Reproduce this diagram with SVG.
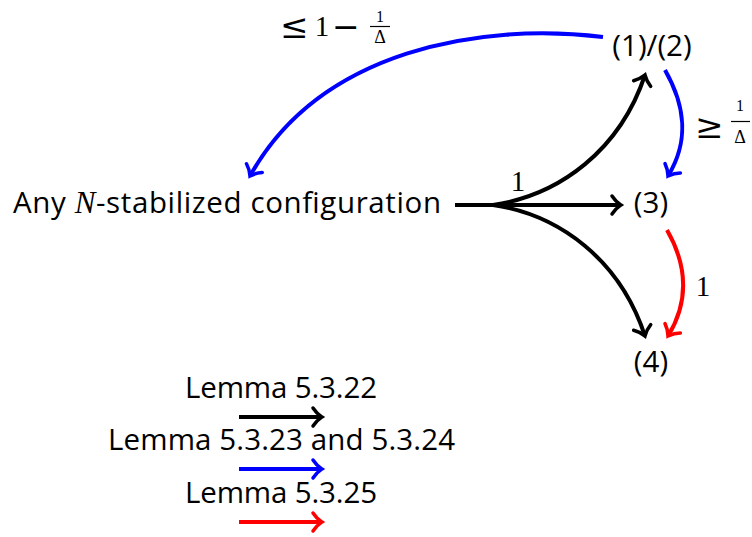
<svg xmlns="http://www.w3.org/2000/svg" width="752" height="537" viewBox="0 0 752 537">
<style>
.t{font-family:"Open Sans","Noto Sans",sans-serif;font-size:29.5px;fill:#000}
.m{font-family:"Liberation Serif","DejaVu Serif",serif;fill:#000}
.s{font-family:"DejaVu Serif","Liberation Serif",serif;fill:#000}
.e{fill:none;stroke-width:4;stroke-linecap:butt}
.k{stroke:#000}.b{stroke:#0000ff}.r{stroke:#ff0000}
</style>
<defs>
<marker id="ak" markerUnits="userSpaceOnUse" markerWidth="20" markerHeight="20" refX="0" refY="0" viewBox="-10 -10 20 20" orient="auto" overflow="visible"><path d="M-9,-9 C-5.5,-3.5 -1.5,-1 0,0 C-1.5,1 -5.5,3.5 -9,9" fill="none" stroke="#000" stroke-width="3.5" stroke-linecap="round"/></marker>
<marker id="ab" markerUnits="userSpaceOnUse" markerWidth="20" markerHeight="20" refX="0" refY="0" viewBox="-10 -10 20 20" orient="auto" overflow="visible"><path d="M-9,-9 C-5.5,-3.5 -1.5,-1 0,0 C-1.5,1 -5.5,3.5 -9,9" fill="none" stroke="#0000ff" stroke-width="3.5" stroke-linecap="round"/></marker>
<marker id="ar" markerUnits="userSpaceOnUse" markerWidth="20" markerHeight="20" refX="0" refY="0" viewBox="-10 -10 20 20" orient="auto" overflow="visible"><path d="M-9,-9 C-5.5,-3.5 -1.5,-1 0,0 C-1.5,1 -5.5,3.5 -9,9" fill="none" stroke="#ff0000" stroke-width="3.5" stroke-linecap="round"/></marker>
</defs>
<g id="n0"><text class="t" x="13" y="213" font-size="30" textLength="428" lengthAdjust="spacing">Any <tspan class="m" font-style="italic" font-size="31">N</tspan>-stabilized configuration</text></g>
<g id="n12"><text class="t" x="652" y="56" text-anchor="middle" font-size="24">(1)/(2)</text></g>
<g id="n3"><text class="t" x="651" y="213" text-anchor="middle" font-size="24">(3)</text></g>
<g id="n4"><text class="t" x="651" y="372" text-anchor="middle" font-size="24">(4)</text></g>
<g id="connectors">
<path class="e k" d="M455,205 L493,205"/>
<path class="e k" d="M493,205 L621,205" marker-end="url(#ak)"/>
<path class="e k" d="M493,205 C560,195 620,150 645,75" marker-end="url(#ak)"/>
<path class="e k" d="M493,205 C560,215 620,260 645,336" marker-end="url(#ak)"/>
<path class="e b" d="M603,37 C480,22 320,50 250,176" marker-end="url(#ab)"/>
<path class="e b" d="M665,70 C685,105 690,140 668,176" marker-end="url(#ab)"/>
<path class="e r" d="M667,230 C687,265 690,300 668,336" marker-end="url(#ar)"/>
</g>
<g id="labels">
<text class="s" x="280" y="38" font-size="34">≤</text>
<text class="m" x="322" y="36" font-size="29" text-anchor="middle">1</text>
<text class="s" x="332" y="38" font-size="33">−</text>
<text class="m" x="380" y="22" font-size="16" text-anchor="middle">1</text>
<line x1="370" y1="26.5" x2="390" y2="26.5" stroke="#000" stroke-width="1.2"/>
<text class="m" x="380" y="43" font-size="18" text-anchor="middle">Δ</text>
<text class="s" x="695" y="138" font-size="34">≥</text>
<text class="m" x="740" y="111" font-size="16" text-anchor="middle">1</text>
<line x1="731" y1="121.5" x2="750" y2="121.5" stroke="#000" stroke-width="1.2"/>
<text class="m" x="740" y="143" font-size="18" text-anchor="middle">Δ</text>
<text class="m" x="518" y="191" font-size="29" text-anchor="middle">1</text>
<text class="m" x="703" y="296" font-size="29" text-anchor="middle">1</text>
</g>
<g id="legend">
<text class="t" x="185" y="398" textLength="192" lengthAdjust="spacing">Lemma 5.3.22</text>
<path class="e k" d="M239,417 L322,417" marker-end="url(#ak)"/>
<text class="t" x="108" y="450" textLength="347" lengthAdjust="spacing">Lemma 5.3.23 and 5.3.24</text>
<path class="e b" d="M239,469 L322,469" marker-end="url(#ab)"/>
<text class="t" x="185" y="503" textLength="192" lengthAdjust="spacing">Lemma 5.3.25</text>
<path class="e r" d="M239,522 L322,522" marker-end="url(#ar)"/>
</g>
</svg>
